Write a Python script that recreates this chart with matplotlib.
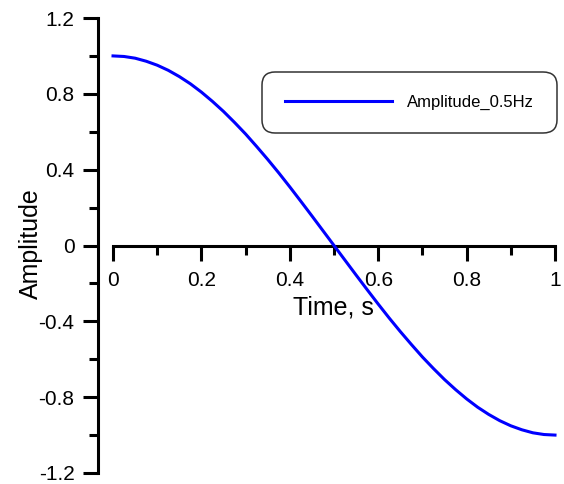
import numpy as np
import matplotlib.pyplot as plt
from matplotlib.ticker import MultipleLocator

plt.rcParams['font.family'] = ['Liberation Sans', 'DejaVu Sans']

# values
time_s = [0.0, 0.025, 0.05, 0.075, 0.1, 0.125, 0.15, 0.175, 0.2, 0.225,
          0.25, 0.275, 0.3, 0.325, 0.35, 0.375, 0.4, 0.425, 0.45, 0.475,
          0.5, 0.525, 0.55, 0.575, 0.6, 0.625, 0.65, 0.675, 0.7, 0.725,
          0.75, 0.775, 0.8, 0.825, 0.85, 0.875, 0.9, 0.925, 0.95, 0.975, 1.0]
amplitude = [1.0, 0.997, 0.988, 0.972, 0.951, 0.924, 0.891, 0.853, 0.809, 0.76,
             0.707, 0.649, 0.588, 0.522, 0.454, 0.383, 0.309, 0.233, 0.156, 0.078,
             0.0, -0.078, -0.156, -0.233, -0.309, -0.383, -0.454, -0.522, -0.588, -0.649,
             -0.707, -0.76, -0.809, -0.853, -0.891, -0.924, -0.951, -0.972, -0.988, -0.997, -1.0]

x_ticks = [0, 0.2, 0.4, 0.6, 0.8, 1]
x_labels = ['0', '0.2', '0.4', '0.6', '0.8', '1']
y_ticks = [-1.2, -0.8, -0.4, 0, 0.4, 0.8, 1.2]
y_labels = ['-1.2', '-0.8', '-0.4', '0', '0.4', '0.8', '1.2']

fig = plt.figure(figsize=(5.64, 4.84), dpi=100)
ax = fig.add_axes([98 / 564, 11 / 484, 457 / 564, 455 / 484])

ax.plot(time_s, amplitude, color='#0000ff', lw=2.2, label='Amplitude_0.5Hz',
        clip_on=False, zorder=3)

ax.set_xlim(-0.034, 1.0)
ax.set_ylim(-1.2, 1.2)

# axes look: y spine on left, x spine through zero
ax.spines['top'].set_visible(False)
ax.spines['right'].set_visible(False)
ax.spines['bottom'].set_position(('data', 0))
ax.spines['bottom'].set_bounds(0, 1)
for s in ['left', 'bottom']:
    ax.spines[s].set_linewidth(2.2)
    ax.spines[s].set_capstyle('projecting')

ax.set_xticks(x_ticks)
ax.set_xticklabels(x_labels)
ax.set_yticks(y_ticks)
ax.set_yticklabels(y_labels)
ax.xaxis.set_minor_locator(MultipleLocator(0.1))
ax.yaxis.set_minor_locator(MultipleLocator(0.2))

ax.tick_params(axis='x', which='major', direction='out', length=11, width=2.2,
               labelsize=15, pad=7.5)
ax.tick_params(axis='x', which='minor', direction='out', length=6.5, width=2.2)
ax.tick_params(axis='y', which='major', direction='out', length=11, width=2.2,
               labelsize=15, pad=6)
ax.tick_params(axis='y', which='minor', direction='out', length=6.5, width=2.2)

ax.set_xlabel('Time, s', fontsize=18)
ax.xaxis.set_label_coords(0.516, 0.39)
ax.set_ylabel('Amplitude', fontsize=18)
ax.yaxis.set_label_coords(-0.12, 0.505)

leg = ax.legend(loc='upper right', bbox_to_anchor=(1.004, 0.882),
                fontsize=12, handlelength=6.4, handletextpad=0.9,
                borderpad=1.4, borderaxespad=0, fancybox=True,
                frameon=True, framealpha=1)
frame = leg.get_frame()
frame.set_edgecolor('#333333')
frame.set_linewidth(1.1)
frame.set_boxstyle('round', pad=0, rounding_size=0.8)

fig.savefig('out.png', dpi=100)
